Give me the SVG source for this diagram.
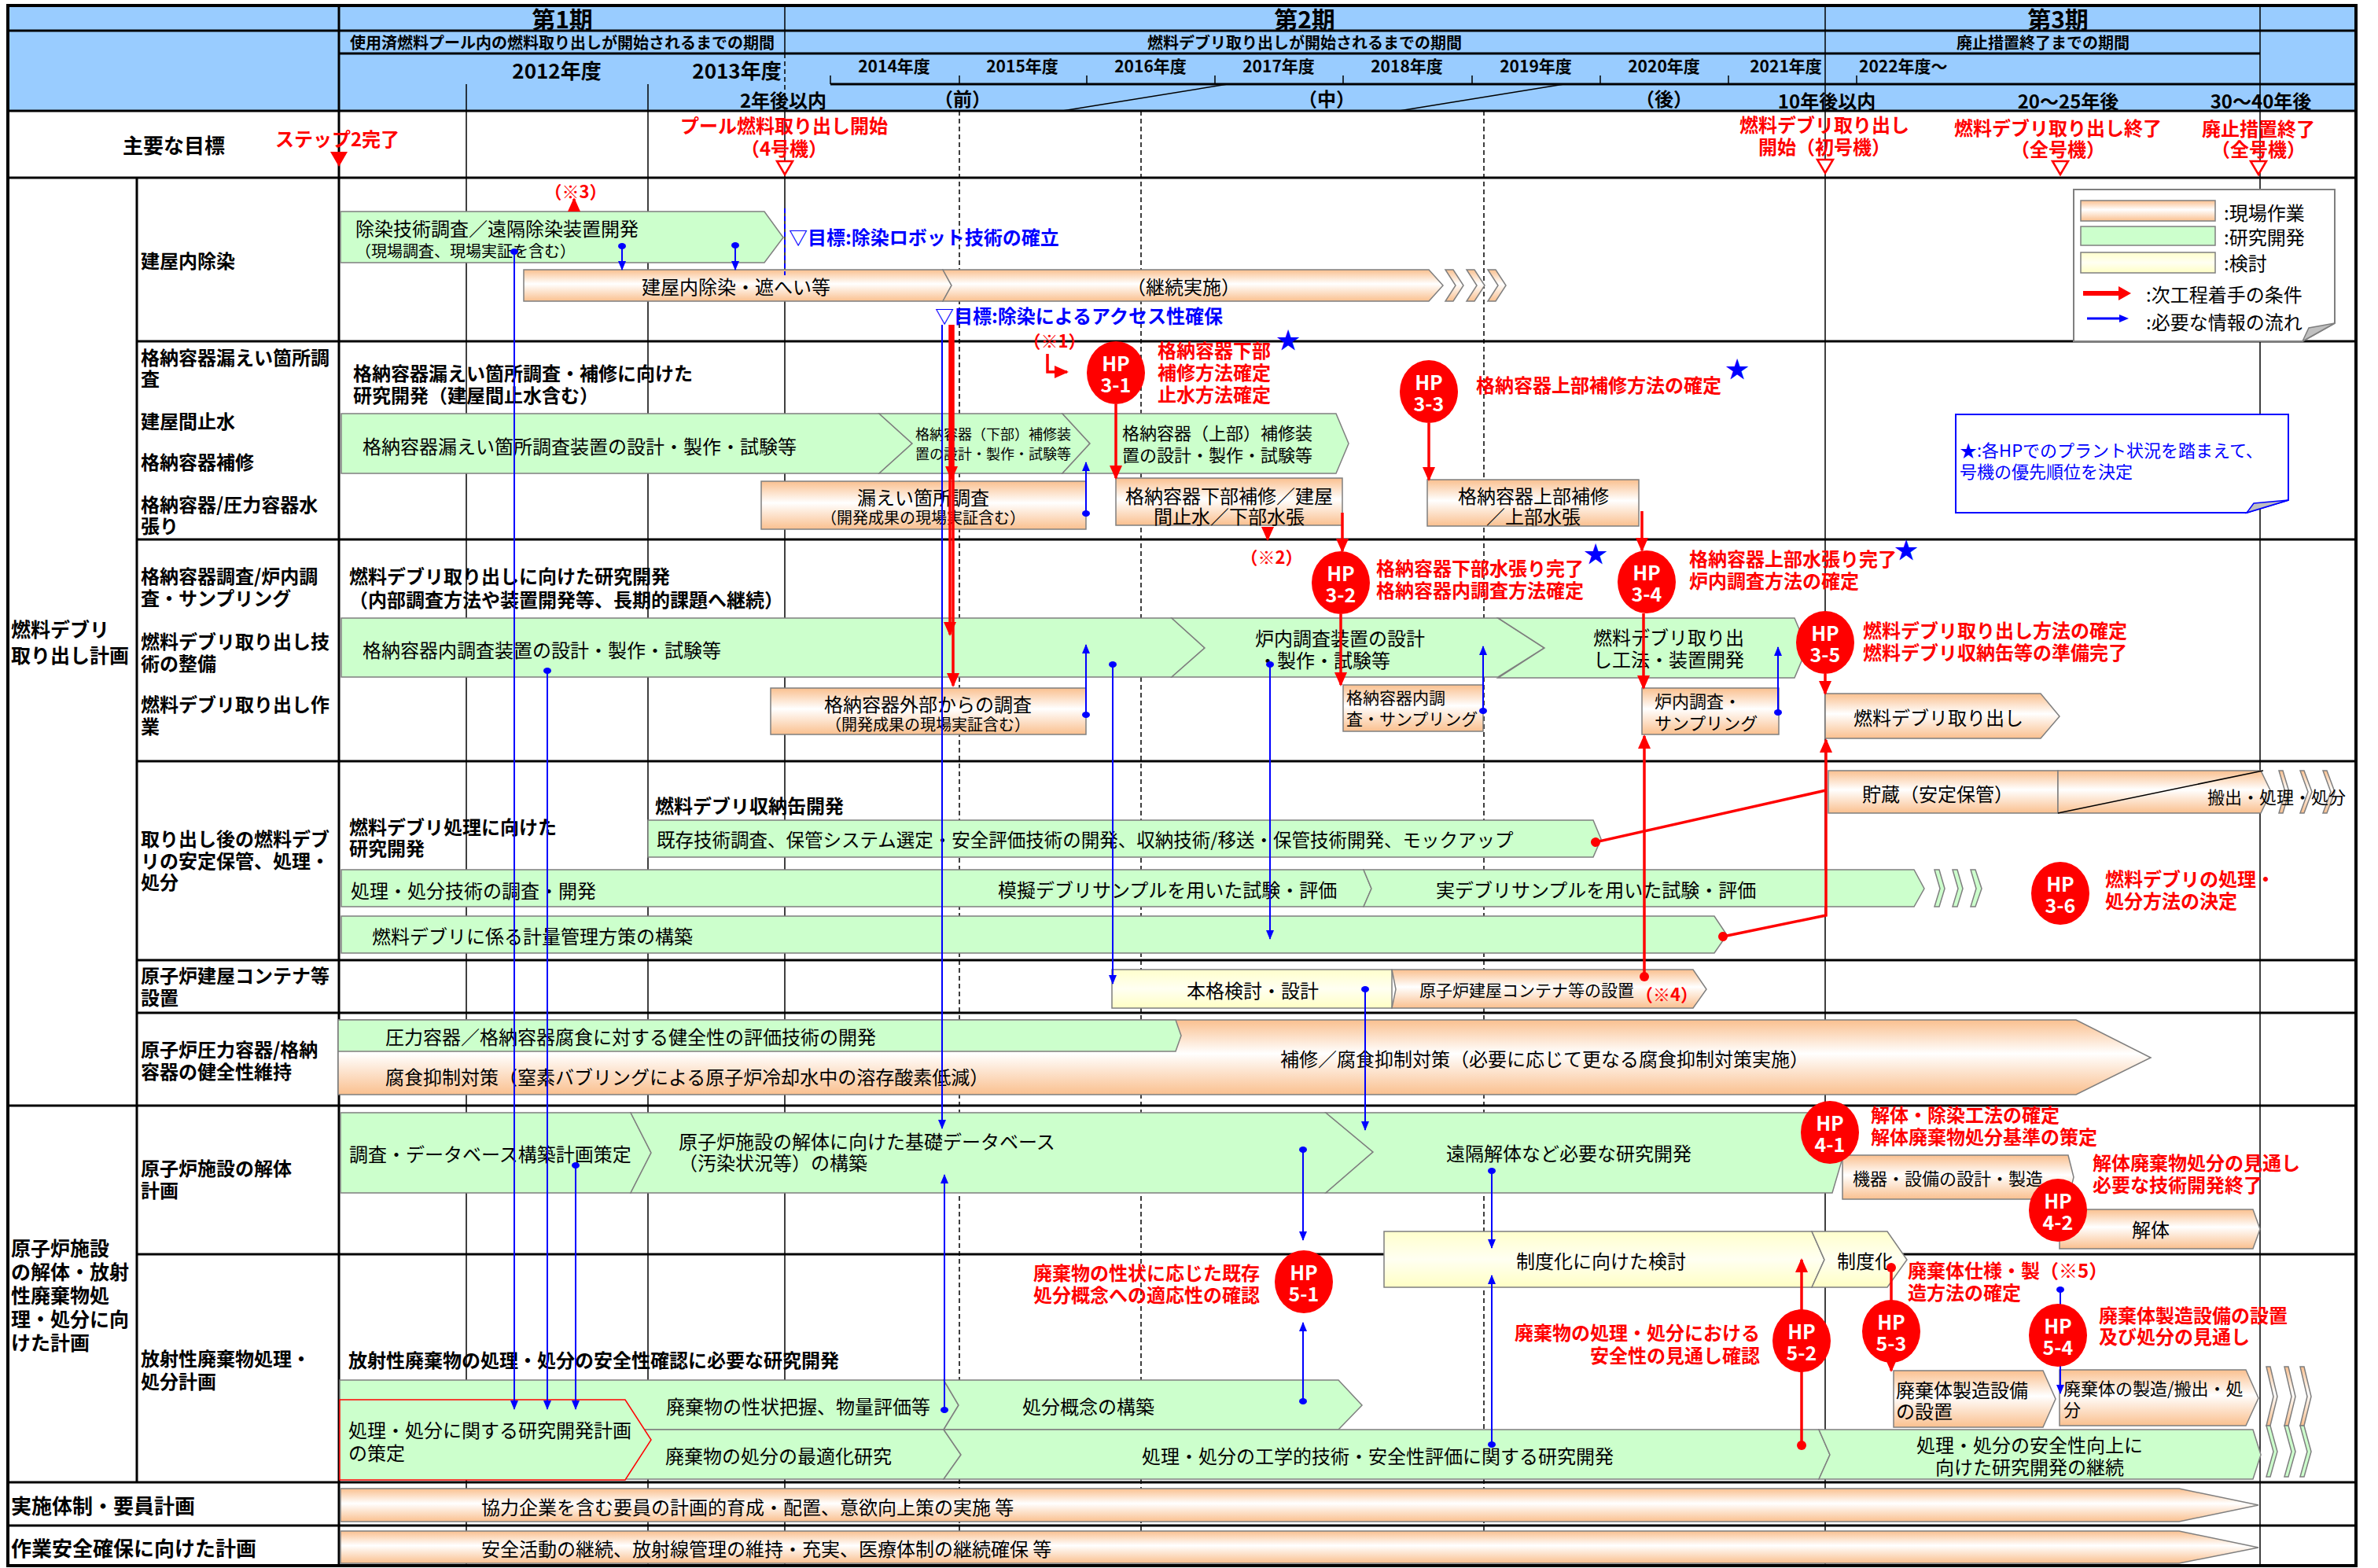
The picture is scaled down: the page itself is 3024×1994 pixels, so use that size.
<svg xmlns="http://www.w3.org/2000/svg" width="3024" height="1994" viewBox="0 0 3024 1994">
<defs>
<linearGradient id="gOr" x1="0" y1="0" x2="0" y2="1"><stop offset="0" stop-color="#FAC08F"/><stop offset="0.45" stop-color="#FFFFFF"/><stop offset="1" stop-color="#FAC08F"/></linearGradient>
<linearGradient id="gYe" x1="0" y1="0" x2="0" y2="1"><stop offset="0" stop-color="#FFFFCC"/><stop offset="0.5" stop-color="#FFFFF2"/><stop offset="1" stop-color="#FFFFC4"/></linearGradient>
<marker id="ar" markerUnits="userSpaceOnUse" markerWidth="18" markerHeight="16" refX="16" refY="8" orient="auto"><path d="M0,0 L18,8 L0,16 z" fill="#FF0000"/></marker>
<marker id="ab" markerUnits="userSpaceOnUse" markerWidth="12" markerHeight="10" refX="11" refY="5" orient="auto"><path d="M0,0 L12,5 L0,10 z" fill="#0000FF"/></marker>
<marker id="db" markerUnits="userSpaceOnUse" markerWidth="10" markerHeight="12" refX="5" refY="6" orient="auto"><ellipse cx="5" cy="6" rx="4" ry="5" fill="#0000FF"/></marker>
<marker id="dr" markerUnits="userSpaceOnUse" markerWidth="14" markerHeight="14" refX="7" refY="7" orient="auto"><circle cx="7" cy="7" r="6" fill="#FF0000"/></marker>
<style>
text{font-family:"Noto Sans CJK JP","Noto Sans",sans-serif;dominant-baseline:central;fill:#000}
.b{font-weight:bold}
.m{text-anchor:middle}
.e{text-anchor:end}
.f18{font-size:18px}.f20{font-size:20px}.f21{font-size:21px}.f22{font-size:22px}.f24{font-size:24px}.f25{font-size:25px}.f26{font-size:26px}.f30{font-size:30px}
.red{fill:#FF0000;font-weight:bold;font-size:24px}
.blu{fill:#0000FF}
.gr{fill:#CCFFCC;stroke:#7F7F7F;stroke-width:1.5}
.or{fill:url(#gOr);stroke:#7F7F7F;stroke-width:1.5}
.ye{fill:url(#gYe);stroke:#7F7F7F;stroke-width:1.5}
.hp{fill:#FF0000}
.hpt{fill:#FFFFFF;font-weight:bold;font-size:25px;text-anchor:middle}
.ln{stroke:#000;stroke-width:3}
.th{stroke:#000;stroke-width:1.5}
.da{stroke:#000;stroke-width:1.5;stroke-dasharray:6 4}
.cb{stroke:#0000FF;stroke-width:2;fill:none}
.cr{stroke:#FF0000;stroke-width:3.5;fill:none}
.star{fill:#0000FF;font-size:30px;text-anchor:middle}
</style>
</defs>

<g id="grid">
<rect x="10" y="7" width="2986" height="134" fill="#99CCFF"/>
<rect x="10" y="141" width="2986" height="1850" fill="#FFFFFF"/>
<line class="ln" x1="10" y1="39" x2="2996" y2="39"/>
<line class="ln" x1="431" y1="68" x2="2874" y2="68"/>
<line class="ln" x1="1056" y1="107" x2="2996" y2="107"/>
<g class="th">
<line x1="1056" y1="96" x2="1056" y2="107"/><line x1="1220" y1="96" x2="1220" y2="107"/><line x1="1382" y1="96" x2="1382" y2="107"/><line x1="1545" y1="96" x2="1545" y2="107"/><line x1="1708" y1="96" x2="1708" y2="107"/><line x1="1872" y1="96" x2="1872" y2="107"/><line x1="2035" y1="96" x2="2035" y2="107"/><line x1="2198" y1="96" x2="2198" y2="107"/><line x1="2361" y1="96" x2="2361" y2="107"/>
<line x1="1351" y1="141" x2="1561" y2="107"/><line x1="1779" y1="141" x2="1989" y2="107"/>
<line x1="593" y1="107" x2="593" y2="1991"/><line x1="824" y1="107" x2="824" y2="1991"/>
<line x1="998" y1="7" x2="998" y2="68"/><line x1="998" y1="141" x2="998" y2="1991"/>
<line x1="2321" y1="7" x2="2321" y2="1991"/><line x1="2874" y1="7" x2="2874" y2="1991"/>
</g>
<line class="da" x1="998" y1="68" x2="998" y2="141"/>
<line class="da" x1="1220" y1="141" x2="1220" y2="1991"/>
<line class="da" x1="1451" y1="141" x2="1451" y2="1991"/>
<line class="da" x1="1887" y1="141" x2="1887" y2="1991"/>
<line class="ln" x1="431" y1="7" x2="431" y2="1991"/>
<line class="ln" x1="174" y1="226" x2="174" y2="1885"/>
<line class="ln" x1="10" y1="141" x2="2996" y2="141" stroke-width="4"/>
<line class="ln" x1="10" y1="226" x2="2996" y2="226"/>
<line class="ln" x1="174" y1="434" x2="2996" y2="434"/>
<line class="ln" x1="174" y1="686" x2="2996" y2="686"/>
<line class="ln" x1="174" y1="968" x2="2996" y2="968"/>
<line class="ln" x1="174" y1="1221" x2="2996" y2="1221"/>
<line class="ln" x1="174" y1="1288" x2="2996" y2="1288"/>
<line class="ln" x1="10" y1="1406" x2="2996" y2="1406"/>
<line class="ln" x1="174" y1="1595" x2="2996" y2="1595"/>
<line class="ln" x1="10" y1="1885" x2="2996" y2="1885"/>
<line class="ln" x1="10" y1="1940" x2="2996" y2="1940"/>
<rect x="10" y="7" width="2986" height="1984" fill="none" stroke="#000" stroke-width="4"/>
</g>

<g id="header">
<text class="b m f30" x="715" y="23">第1期</text>
<text class="b m f20" x="715" y="53">使用済燃料プール内の燃料取り出しが開始されるまでの期間</text>
<text class="b m f26" x="708" y="88">2012年度</text>
<text class="b m f26" x="937" y="88">2013年度</text>
<text class="b m f24" x="996" y="126">2年後以内</text>
<text class="b m f30" x="1659" y="23">第2期</text>
<text class="b m f20" x="1659" y="53">燃料デブリ取り出しが開始されるまでの期間</text>
<text class="b m f21" x="1137" y="83">2014年度</text>
<text class="b m f21" x="1300" y="83">2015年度</text>
<text class="b m f21" x="1463" y="83">2016年度</text>
<text class="b m f21" x="1626" y="83">2017年度</text>
<text class="b m f21" x="1789" y="83">2018年度</text>
<text class="b m f21" x="1953" y="83">2019年度</text>
<text class="b m f21" x="2116" y="83">2020年度</text>
<text class="b m f21" x="2271" y="83">2021年度</text>
<text class="b f21" x="2364" y="83">2022年度～</text>
<text class="b m f24" x="1224" y="124">（前）</text>
<text class="b m f24" x="1687" y="124">（中）</text>
<text class="b m f24" x="2116" y="124">（後）</text>
<text class="b m f24" x="2323" y="127">10年後以内</text>
<text class="b m f24" x="2630" y="127">20～25年後</text>
<text class="b m f24" x="2875" y="127">30～40年後</text>
<text class="b m f30" x="2617" y="23">第3期</text>
<text class="b m f20" x="2598" y="53">廃止措置終了までの期間</text>
</g>

<g id="goals">
<text class="b m f26" x="221" y="183">主要な目標</text>
<text class="red m" x="429" y="175">ステップ2完了</text>
<polygon points="420,193 442,193 431,212" fill="#FF0000"/>
<text class="red m" x="997" y="158">プール燃料取り出し開始</text>
<text class="red m" x="997" y="187">（4号機）</text>
<polygon points="988,205 1008,205 998,222" fill="#FFFFFF" stroke="#FF0000" stroke-width="2.5"/>
<text class="red m" x="2320" y="157">燃料デブリ取り出し</text>
<text class="red m" x="2320" y="185">開始（初号機）</text>
<polygon points="2311,203 2331,203 2321,220" fill="#FFFFFF" stroke="#FF0000" stroke-width="2.5"/>
<text class="red m" x="2617" y="161">燃料デブリ取り出し終了</text>
<text class="red m" x="2617" y="188">（全号機）</text>
<polygon points="2610,205 2630,205 2620,222" fill="#FFFFFF" stroke="#FF0000" stroke-width="2.5"/>
<text class="red m" x="2872" y="162">廃止措置終了</text>
<text class="red m" x="2872" y="188">（全号機）</text>
<polygon points="2862,205 2882,205 2872,222" fill="#FFFFFF" stroke="#FF0000" stroke-width="2.5"/>
</g>

<g id="labels">
<text class="b f25" x="14" y="799">燃料デブリ</text>
<text class="b f25" x="14" y="832">取り出し計画</text>
<text class="b f24" x="179" y="330">建屋内除染</text>
<text class="b f24" x="179" y="453">格納容器漏えい箇所調</text>
<text class="b f24" x="179" y="480">査</text>
<text class="b f24" x="179" y="534">建屋間止水</text>
<text class="b f24" x="179" y="586">格納容器補修</text>
<text class="b f24" x="179" y="640">格納容器/圧力容器水</text>
<text class="b f24" x="179" y="667">張り</text>
<text class="b f24" x="179" y="731">格納容器調査/炉内調</text>
<text class="b f24" x="179" y="759">査・サンプリング</text>
<text class="b f24" x="179" y="814">燃料デブリ取り出し技</text>
<text class="b f24" x="179" y="842">術の整備</text>
<text class="b f24" x="179" y="894">燃料デブリ取り出し作</text>
<text class="b f24" x="179" y="922">業</text>
<text class="b f24" x="179" y="1065">取り出し後の燃料デブ</text>
<text class="b f24" x="179" y="1093">リの安定保管、処理・</text>
<text class="b f24" x="179" y="1120">処分</text>
<text class="b f24" x="179" y="1239">原子炉建屋コンテナ等</text>
<text class="b f24" x="179" y="1267">設置</text>
<text class="b f24" x="179" y="1333">原子炉圧力容器/格納</text>
<text class="b f24" x="179" y="1361">容器の健全性維持</text>
<text class="b f25" x="14" y="1586">原子炉施設</text>
<text class="b f25" x="14" y="1616">の解体・放射</text>
<text class="b f25" x="14" y="1646">性廃棄物処</text>
<text class="b f25" x="14" y="1676">理・処分に向</text>
<text class="b f25" x="14" y="1706">けた計画</text>
<text class="b f24" x="179" y="1484">原子炉施設の解体</text>
<text class="b f24" x="179" y="1512">計画</text>
<text class="b f24" x="179" y="1726">放射性廃棄物処理・</text>
<text class="b f24" x="179" y="1755">処分計画</text>
<text class="b f26" x="14" y="1913">実施体制・要員計画</text>
<text class="b f26" x="14" y="1967">作業安全確保に向けた計画</text>
</g>

<g id="row-decon">
<g id="n-decon-rd"><polygon class="gr" points="433,269 972,269 996,302 972,334 433,334"/>
<text class="f24" x="452" y="289">除染技術調査／遠隔除染装置開発</text>
<text class="f20" x="452" y="318">（現場調査、現場実証を含む）</text></g>
<g id="n-decon-work"><polygon class="or" points="666,343 1199,343 1210,363 1199,383 666,383"/>
<text class="f24 m" x="936" y="363">建屋内除染・遮へい等</text></g>
<g id="n-decon-cont"><polygon class="or" points="1199,343 1817,343 1835,363 1817,383 1199,383 1210,363"/>
<text class="f24 m" x="1505" y="363">（継続実施）</text>
<polygon class="or" points="1838,343 1848,343 1861,363 1848,383 1838,383 1851,363"/>
<polygon class="or" points="1865,343 1875,343 1888,363 1875,383 1865,383 1878,363"/>
<polygon class="or" points="1892,343 1902,343 1915,363 1902,383 1892,383 1905,363"/></g>
<text class="b f24 blu" x="1003" y="300">▽目標:除染ロボット技術の確立</text>
<text class="b f24 blu" x="1189" y="400">▽目標:除染によるアクセス性確保</text>
<text class="red m" style="font-size:22px" x="732" y="242">（※3）</text>
</g>

<g id="row-pcv">
<text class="b f24" x="449" y="473">格納容器漏えい箇所調査・補修に向けた</text>
<text class="b f24" x="449" y="501">研究開発（建屋間止水含む）</text>
<g id="n-leak-dev"><polygon class="gr" points="434,526 1118,526 1160,564 1118,602 434,602"/>
<text class="f24" x="461" y="566">格納容器漏えい箇所調査装置の設計・製作・試験等</text></g>
<g id="n-lower-dev"><polygon class="gr" points="1118,526 1351,526 1386,564 1351,602 1118,602 1160,564"/>
<text class="f18" x="1164" y="551">格納容器（下部）補修装</text>
<text class="f18" x="1164" y="576">置の設計・製作・試験等</text></g>
<g id="n-upper-dev"><polygon class="gr" points="1351,526 1699,526 1715,564 1699,602 1351,602 1386,564"/>
<text class="f22" x="1427" y="549">格納容器（上部）補修装</text>
<text class="f22" x="1427" y="577">置の設計・製作・試験等</text></g>
<g id="n-leak-work"><rect class="or" x="968" y="612" width="413" height="61"/>
<text class="f24 m" x="1174" y="631">漏えい箇所調査</text>
<text class="f20 m" x="1174" y="657">（開発成果の現場実証含む）</text></g>
<g id="n-lower-work"><rect class="or" x="1419" y="608" width="288" height="60"/>
<text class="f24 m" x="1563" y="629">格納容器下部補修／建屋</text>
<text class="f24 m" x="1563" y="655">間止水／下部水張</text></g>
<g id="n-upper-work"><rect class="or" x="1815" y="610" width="269" height="59"/>
<text class="f24 m" x="1950" y="629">格納容器上部補修</text>
<text class="f24 m" x="1950" y="655">／上部水張</text></g>
<text class="red m" style="font-size:22px" x="1341" y="432">（※1）</text>
<text class="red m" style="font-size:22px" x="1617" y="707">（※2）</text>
</g>

<g id="row-debris">
<text class="b f24" x="444" y="731">燃料デブリ取り出しに向けた研究開発</text>
<text class="b f24" x="444" y="761">（内部調査方法や装置開発等、長期的課題へ継続）</text>
<g id="n-pcv-inspect-dev"><polygon class="gr" points="434,786 1490,786 1532,824 1490,861 434,861"/>
<text class="f24" x="461" y="825">格納容器内調査装置の設計・製作・試験等</text></g>
<g id="n-rpv-inspect-dev"><polygon class="gr" points="1490,786 1905,786 1964,824 1905,861 1490,861 1532,824"/>
<text class="f24" x="1596" y="810">炉内調査装置の設計</text>
<text class="f24" x="1600" y="838">・製作・試験等</text></g>
<g id="n-retrieval-dev"><polygon class="gr" points="1905,786 2282,786 2298,824 2282,862 1905,862 1964,824"/>
<text class="f24" x="2026" y="809">燃料デブリ取り出</text>
<text class="f24" x="2026" y="837">し工法・装置開発</text></g>
<g id="n-outside-work"><rect class="or" x="980" y="875" width="401" height="59"/>
<text class="f24 m" x="1180" y="894">格納容器外部からの調査</text>
<text class="f20 m" x="1180" y="920">（開発成果の現場実証含む）</text></g>
<g id="n-pcv-sampling"><rect class="or" x="1708" y="871" width="178" height="59"/>
<text class="f21" x="1712" y="886">格納容器内調</text>
<text class="f21" x="1712" y="913">査・サンプリング</text></g>
<g id="n-rpv-sampling"><rect class="or" x="2088" y="875" width="174" height="59"/>
<text class="f22" x="2104" y="890">炉内調査・</text>
<text class="f22" x="2104" y="918">サンプリング</text></g>
<g id="n-retrieval"><polygon class="or" points="2321,882 2595,882 2619,911 2595,939 2321,939"/>
<text class="f24" x="2357" y="911">燃料デブリ取り出し</text></g>
</g>

<g id="row-storage">
<text class="b f24" x="444" y="1050">燃料デブリ処理に向けた</text>
<text class="b f24" x="444" y="1077">研究開発</text>
<text class="b f24" x="833" y="1023">燃料デブリ収納缶開発</text>
<g id="n-canister"><polygon class="gr" points="824,1043 2026,1043 2036,1067 2026,1090 824,1090"/>
<text style="font-size:23.5px" x="835" y="1067">既存技術調査、保管システム選定・安全評価技術の開発、収納技術/移送・保管技術開発、モックアップ</text></g>
<g id="n-treat-dev"><polygon class="gr" points="434,1106 1734,1106 1744,1130 1734,1153 434,1153"/>
<text class="f24" x="446" y="1131">処理・処分技術の調査・開発</text>
<text class="f24" x="1269" y="1130">模擬デブリサンプルを用いた試験・評価</text></g>
<g id="n-real-sample"><polygon class="gr" points="1734,1106 2434,1106 2447,1130 2434,1153 1734,1153 1744,1130"/>
<text class="f24" x="1826" y="1130">実デブリサンプルを用いた試験・評価</text>
<polygon class="gr" points="2460,1106 2466,1106 2473,1130 2466,1153 2460,1153 2467,1130"/>
<polygon class="gr" points="2483,1106 2489,1106 2496,1130 2489,1153 2483,1153 2490,1130"/>
<polygon class="gr" points="2506,1106 2512,1106 2520,1130 2512,1153 2506,1153 2513,1130"/></g>
<g id="n-accounting"><polygon class="gr" points="434,1165 2180,1165 2196,1189 2180,1212 434,1212"/>
<text class="f24" x="473" y="1189">燃料デブリに係る計量管理方策の構築</text></g>
<g id="n-store"><rect class="or" x="2325" y="980" width="292" height="54"/>
<text class="f24 m" x="2464" y="1008">貯蔵（安定保管）</text></g>
<g id="n-carryout"><polygon class="or" points="2617,980 2875,980 2888,1007 2875,1034 2617,1034"/>
<line x1="2617" y1="1034" x2="2878" y2="980" stroke="#000" stroke-width="1.5"/>
<polygon class="or" points="2898,980 2903,980 2911,1007 2903,1034 2898,1034 2906,1007"/>
<polygon class="or" points="2925,980 2930,980 2940,1007 2930,1034 2925,1034 2935,1007"/>
<polygon class="or" points="2954,980 2959,980 2969,1007 2959,1034 2954,1034 2964,1007"/>
<text class="f22" x="2807" y="1012">搬出・処理・処分</text></g>
</g>

<g id="row-container">
<g id="n-container-study"><rect class="ye" x="1414" y="1233" width="356" height="49"/>
<text class="f24 m" x="1593" y="1258">本格検討・設計</text></g>
<g id="n-container-install"><polygon class="or" points="1770,1233 2153,1233 2170,1258 2153,1282 1770,1282 1775,1258"/>
<text class="f21" x="1805" y="1258">原子炉建屋コンテナ等の設置</text>
<text class="red" style="font-size:22px" x="2080" y="1263">（※4）</text></g>
</g>

<g id="row-integrity">
<g id="n-corrosion-work"><polygon class="or" points="430,1297 2640,1297 2735,1345 2640,1392 430,1392"/>
<text class="f24 m" x="1964" y="1345">補修／腐食抑制対策（必要に応じて更なる腐食抑制対策実施）</text>
<text class="f24" x="490" y="1368">腐食抑制対策（窒素バブリングによる原子炉冷却水中の溶存酸素低減）</text></g>
<g id="n-corrosion-dev"><polygon class="gr" points="430,1297 1495,1297 1502,1317 1495,1337 430,1337"/>
<text class="f24" x="490" y="1317">圧力容器／格納容器腐食に対する健全性の評価技術の開発</text></g>
</g>

<g id="row-dismantle">
<g id="n-db-plan"><polygon class="gr" points="433,1415 802,1415 828,1466 802,1517 433,1517"/>
<text class="f24" x="444" y="1466">調査・データベース構築計画策定</text></g>
<g id="n-db-build"><polygon class="gr" points="802,1415 1686,1415 1746,1465 1686,1517 802,1517 828,1466"/>
<text class="f24" x="863" y="1450">原子炉施設の解体に向けた基礎データベース</text>
<text class="f24" x="863" y="1477">（汚染状況等）の構築</text></g>
<g id="n-remote"><polygon class="gr" points="1686,1415 2330,1415 2345,1466 2330,1517 1686,1517 1746,1465"/>
<text class="f24 m" x="1995" y="1465">遠隔解体など必要な研究開発</text></g>
<g id="n-equip"><polygon class="or" points="2343,1469 2630,1469 2637,1497 2630,1525 2343,1525"/>
<text class="f22" x="2356" y="1497">機器・設備の設計・製造</text></g>
<g id="n-dismantle"><polygon class="or" points="2619,1538 2865,1538 2874,1563 2865,1588 2619,1588"/>
<text class="f24 m" x="2735" y="1562">解体</text></g>
<g id="n-regulation-study"><polygon class="ye" points="1760,1566 2304,1566 2320,1602 2304,1637 1760,1637"/>
<text class="f24" x="1928" y="1602">制度化に向けた検討</text></g>
<g id="n-regulation"><polygon class="ye" points="2304,1566 2400,1566 2425,1602 2400,1637 2304,1637 2320,1602"/>
<text class="f24" x="2336" y="1602">制度化</text></g>
</g>

<g id="row-waste">
<text class="b f24" x="443" y="1728">放射性廃棄物の処理・処分の安全性確認に必要な研究開発</text>
<g id="n-characterize"><polygon class="gr" points="432,1755 1200,1755 1219,1787 1200,1818 432,1818"/>
<text class="f24" x="847" y="1787">廃棄物の性状把握、物量評価等</text></g>
<g id="n-concept"><polygon class="gr" points="1200,1755 1702,1755 1732,1787 1702,1818 1200,1818 1219,1787"/>
<text class="f24" x="1300" y="1787">処分概念の構築</text></g>
<g id="n-optimize"><polygon class="gr" points="432,1818 1200,1818 1222,1850 1200,1881 432,1881"/>
<text class="f24" x="846" y="1850">廃棄物の処分の最適化研究</text></g>
<g id="n-engineering"><polygon class="gr" points="1200,1818 2313,1818 2327,1850 2313,1881 1200,1881 1222,1850"/>
<text class="f24 m" x="1752" y="1850">処理・処分の工学的技術・安全性評価に関する研究開発</text></g>
<g id="n-continue"><polygon class="gr" points="2313,1818 2865,1818 2875,1850 2865,1881 2313,1881 2327,1850"/>
<text class="f24 m" x="2581" y="1836">処理・処分の安全性向上に</text>
<text class="f24 m" x="2581" y="1864">向けた研究開発の継続</text></g>
<g id="n-rd-plan"><polygon points="432,1780 795,1780 828,1831 795,1882 432,1882" fill="#CCFFCC" stroke="#FF0000" stroke-width="1.5"/>
<text class="f24" x="443" y="1817">処理・処分に関する研究開発計画</text>
<text class="f24" x="443" y="1846">の策定</text></g>
<g id="n-package-facility"><polygon class="or" points="2408,1743 2598,1743 2614,1779 2598,1815 2408,1815"/>
<text class="f24" x="2411" y="1766">廃棄体製造設備</text>
<text class="f24" x="2411" y="1793">の設置</text></g>
<g id="n-package"><polygon class="or" points="2619,1742 2856,1742 2872,1778 2856,1813 2619,1813"/>
<text class="f22" x="2624" y="1764">廃棄体の製造/搬出・処</text>
<text class="f22" x="2624" y="1791">分</text></g>
<g id="n-waste-chevrons">
<polygon class="or" points="2882,1738 2887,1738 2896,1776 2887,1813 2882,1813 2891,1776"/>
<polygon class="or" points="2905,1738 2910,1738 2919,1776 2910,1813 2905,1813 2914,1776"/>
<polygon class="or" points="2925,1738 2930,1738 2939,1776 2930,1813 2925,1813 2934,1776"/>
<polygon class="gr" points="2882,1813 2887,1813 2896,1846 2887,1878 2882,1878 2891,1846"/>
<polygon class="gr" points="2905,1813 2910,1813 2919,1846 2910,1878 2905,1878 2914,1846"/>
<polygon class="gr" points="2925,1813 2930,1813 2939,1846 2930,1878 2925,1878 2934,1846"/></g>
</g>

<g id="row-staff">
<g id="n-staff"><polygon class="or" points="433,1893 2771,1893 2872,1914 2771,1935 433,1935"/>
<text class="f24" x="612" y="1915">協力企業を含む要員の計画的育成・配置、意欲向上策の実施 等</text></g>
<g id="n-safety"><polygon class="or" points="433,1947 2771,1947 2872,1968 2771,1988 433,1988"/>
<text class="f24" x="612" y="1968">安全活動の継続、放射線管理の維持・充実、医療体制の継続確保 等</text></g>
</g>

<g id="connectors">
<line class="cb" x1="998" y1="265" x2="998" y2="350" stroke-dasharray="6 4"/>
<path class="cb" d="M791,313 V343" marker-start="url(#db)" marker-end="url(#ab)"/>
<path class="cb" d="M935,312 V343" marker-start="url(#db)" marker-end="url(#ab)"/>
<path class="cb" d="M654,320 V1792" marker-start="url(#db)" marker-end="url(#ab)"/>
<path class="cb" d="M696,853 V1792" marker-start="url(#db)" marker-end="url(#ab)"/>
<path class="cb" d="M732,1482 V1792" marker-start="url(#db)" marker-end="url(#ab)"/>
<path class="cb" d="M1198,413 V1435" marker-end="url(#ab)"/>
<path class="cb" d="M1381,653 V588" marker-start="url(#db)" marker-end="url(#ab)"/>
<path class="cb" d="M1381,909 V820" marker-start="url(#db)" marker-end="url(#ab)"/>
<path class="cb" d="M1415,845 V1251" marker-start="url(#db)" marker-end="url(#ab)"/>
<path class="cb" d="M1615,845 V1194" marker-start="url(#db)" marker-end="url(#ab)"/>
<path class="cb" d="M1886,904 V822" marker-start="url(#db)" marker-end="url(#ab)"/>
<path class="cb" d="M2261,906 V823" marker-start="url(#db)" marker-end="url(#ab)"/>
<path class="cb" d="M1736,1258 V1437" marker-start="url(#db)" marker-end="url(#ab)"/>
<path class="cb" d="M1201,1793 V1494" marker-start="url(#db)" marker-end="url(#ab)"/>
<path class="cb" d="M1657,1462 V1577" marker-start="url(#db)" marker-end="url(#ab)"/>
<path class="cb" d="M1657,1782 V1682" marker-start="url(#db)" marker-end="url(#ab)"/>
<path class="cb" d="M1897,1489 V1587" marker-start="url(#db)" marker-end="url(#ab)"/>
<path class="cb" d="M1897,1837 V1622" marker-start="url(#db)" marker-end="url(#ab)"/>
<path class="cb" d="M2620,1640 V1772" marker-start="url(#db)" marker-end="url(#ab)"/>
<path class="cr" stroke-width="2.5" d="M730,269 V253" marker-end="url(#ar)"/>
<path class="cr" d="M1210,413 V609" marker-end="url(#ar)"/>
<path class="cr" d="M1208,413 V807" marker-end="url(#ar)"/>
<path class="cr" d="M1212,413 V872" marker-end="url(#ar)"/>
<path class="cr" stroke-width="2.5" d="M1332,450 V473 H1357" marker-end="url(#ar)"/>
<path class="cr" d="M1419,514 V608" marker-end="url(#ar)"/>
<path class="cr" d="M1817,538 V610" marker-end="url(#ar)"/>
<path class="cr" stroke-width="2" d="M1612,670 V686" marker-end="url(#ar)"/>
<path class="cr" d="M1707,652 V701" marker-end="url(#ar)"/>
<path class="cr" d="M1705,781 V871" marker-end="url(#ar)"/>
<path class="cr" d="M2088,650 V700" marker-end="url(#ar)"/>
<path class="cr" d="M2090,780 V875" marker-end="url(#ar)"/>
<path class="cr" d="M2091,1242 V936" marker-start="url(#dr)" marker-end="url(#ar)"/>
<path class="cr" d="M2321,857 V882" marker-end="url(#ar)"/>
<path class="cr" d="M2191,1191 L2322,1164 V941" marker-start="url(#dr)" marker-end="url(#ar)"/>
<path class="cr" d="M2029,1071 L2322,1005" marker-start="url(#dr)"/>
<path class="cr" d="M2291,1838 V1602" marker-start="url(#dr)" marker-end="url(#ar)"/>
<path class="cr" d="M2405,1612 V1743" marker-start="url(#dr)" marker-end="url(#ar)"/>
</g>

<g id="hp31"><ellipse class="hp" cx="1419" cy="474" rx="37" ry="40"/><text class="hpt" x="1419" y="461">HP</text><text class="hpt" x="1419" y="488">3-1</text>
<text class="red" x="1472" y="444">格納容器下部</text><text class="red" x="1472" y="472">補修方法確定</text><text class="red" x="1472" y="500">止水方法確定</text><text class="star" x="1638" y="430">★</text></g>
<g id="hp33"><ellipse class="hp" cx="1817" cy="498" rx="37" ry="40"/><text class="hpt" x="1817" y="485">HP</text><text class="hpt" x="1817" y="512">3-3</text>
<text class="red" x="1877" y="488">格納容器上部補修方法の確定</text><text class="star" x="2209" y="467">★</text></g>
<g id="hp32"><ellipse class="hp" cx="1705" cy="741" rx="37" ry="40"/><text class="hpt" x="1705" y="728">HP</text><text class="hpt" x="1705" y="755">3-2</text>
<text class="red" x="1750" y="721">格納容器下部水張り完了</text><text class="red" x="1750" y="749">格納容器内調査方法確定</text><text class="star" x="2029" y="702">★</text></g>
<g id="hp34"><ellipse class="hp" cx="2094" cy="740" rx="37" ry="40"/><text class="hpt" x="2094" y="727">HP</text><text class="hpt" x="2094" y="754">3-4</text>
<text class="red" x="2148" y="709">格納容器上部水張り完了</text><text class="red" x="2148" y="737">炉内調査方法の確定</text><text class="star" x="2424" y="697">★</text></g>
<g id="hp35"><ellipse class="hp" cx="2321" cy="817" rx="37" ry="40"/><text class="hpt" x="2321" y="804">HP</text><text class="hpt" x="2321" y="831">3-5</text>
<text class="red" x="2369" y="800">燃料デブリ取り出し方法の確定</text><text class="red" x="2369" y="828">燃料デブリ収納缶等の準備完了</text></g>
<g id="hp36"><ellipse class="hp" cx="2620" cy="1136" rx="37" ry="40"/><text class="hpt" x="2620" y="1123">HP</text><text class="hpt" x="2620" y="1150">3-6</text>
<text class="red" x="2677" y="1116">燃料デブリの処理・</text><text class="red" x="2677" y="1144">処分方法の決定</text></g>
<g id="hp41"><ellipse class="hp" cx="2327" cy="1440" rx="37" ry="40"/><text class="hpt" x="2327" y="1427">HP</text><text class="hpt" x="2327" y="1454">4-1</text>
<text class="red" x="2379" y="1416">解体・除染工法の確定</text><text class="red" x="2379" y="1444">解体廃棄物処分基準の策定</text></g>
<g id="hp42"><ellipse class="hp" cx="2617" cy="1539" rx="37" ry="40"/><text class="hpt" x="2617" y="1526">HP</text><text class="hpt" x="2617" y="1553">4-2</text>
<text class="red" x="2661" y="1477">解体廃棄物処分の見通し</text><text class="red" x="2661" y="1505">必要な技術開発終了</text></g>
<g id="hp51"><ellipse class="hp" cx="1658" cy="1630" rx="37" ry="40"/><text class="hpt" x="1658" y="1617">HP</text><text class="hpt" x="1658" y="1644">5-1</text>
<text class="red e" x="1602" y="1617">廃棄物の性状に応じた既存</text><text class="red e" x="1602" y="1645">処分概念への適応性の確認</text></g>
<g id="hp52"><ellipse class="hp" cx="2291" cy="1705" rx="37" ry="40"/><text class="hpt" x="2291" y="1692">HP</text><text class="hpt" x="2291" y="1719">5-2</text>
<text class="red e" x="2238" y="1693">廃棄物の処理・処分における</text><text class="red e" x="2238" y="1722">安全性の見通し確認</text></g>
<g id="hp53"><ellipse class="hp" cx="2405" cy="1693" rx="37" ry="40"/><text class="hpt" x="2405" y="1680">HP</text><text class="hpt" x="2405" y="1707">5-3</text>
<text class="red" x="2426" y="1614">廃棄体仕様・製（※5）</text><text class="red" x="2426" y="1642">造方法の確定</text></g>
<g id="hp54"><ellipse class="hp" cx="2617" cy="1698" rx="37" ry="40"/><text class="hpt" x="2617" y="1685">HP</text><text class="hpt" x="2617" y="1712">5-4</text>
<text class="red" x="2669" y="1671">廃棄体製造設備の設置</text><text class="red" x="2669" y="1698">及び処分の見通し</text></g>

<g id="legend">
<polygon points="2637,241 2969,241 2969,411 2928,434 2637,434" fill="#FFFFFF" stroke="#7F7F7F" stroke-width="2"/>
<polygon points="2928,434 2969,411 2936,417" fill="#C0C0C0" stroke="#7F7F7F" stroke-width="1.5"/>
<rect class="or" x="2646" y="255" width="171" height="26"/>
<rect class="gr" x="2646" y="288" width="171" height="24"/>
<rect class="ye" x="2646" y="321" width="171" height="26"/>
<text class="f24" x="2828" y="269">:現場作業</text>
<text class="f24" x="2828" y="300">:研究開発</text>
<text class="f24" x="2828" y="333">:検討</text>
<line x1="2649" y1="373" x2="2696" y2="373" stroke="#FF0000" stroke-width="6"/>
<polygon points="2694,364 2710,373 2694,382" fill="#FF0000"/>
<line x1="2654" y1="405" x2="2697" y2="405" stroke="#0000FF" stroke-width="3"/>
<polygon points="2695,400 2707,405 2695,410" fill="#0000FF"/>
<text class="f24" x="2729" y="373">:次工程着手の条件</text>
<text class="f24" x="2729" y="408">:必要な情報の流れ</text>
</g>

<g id="note">
<polygon points="2487,527 2910,527 2910,636 2857,652 2487,652" fill="#FFFFFF" stroke="#0000FF" stroke-width="2"/>
<polygon points="2857,652 2910,636 2866,640" fill="#C0C0C0" stroke="#0000FF" stroke-width="1.5"/>
<text class="f22 blu" x="2492" y="571">★:各HPでのプラント状況を踏まえて、</text>
<text class="f22 blu" x="2492" y="598">号機の優先順位を決定</text>
</g>
</svg>
